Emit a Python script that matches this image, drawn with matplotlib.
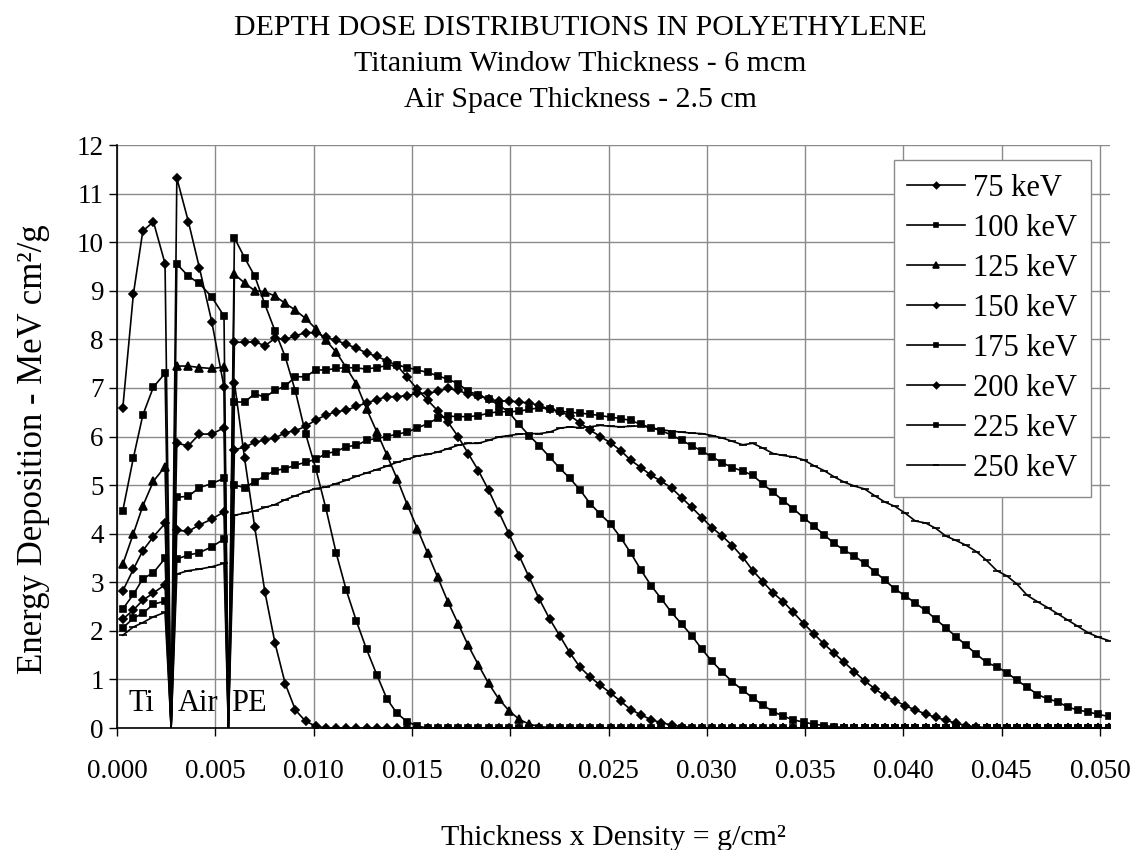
import numpy as np
import matplotlib
matplotlib.use("Agg")
import matplotlib.pyplot as plt

plt.rcParams['font.family'] = ['Liberation Serif', 'DejaVu Serif']

# depth grid (g/cm2): titanium window, air gap, polyethylene
ti_x = [0.00029, 0.00083, 0.00131, 0.00185, 0.00244]
air_x = [0.00304, 0.00363, 0.00419, 0.00482, 0.00544]
ti_air_edge = 0.00275
air_pe_edge = 0.00566
pe_start = 0.00597
pe_step = 0.000517
pe_count = 87

labels = ["75 keV", "100 keV", "125 keV", "150 keV",
          "175 keV", "200 keV", "225 keV", "250 keV"]

# energy deposition, MeV cm2/g
ti_75 = [6.58, 8.93, 10.23, 10.42, 9.56]
air_75 = [11.32, 10.42, 9.47, 8.36, 7.02]
pe_75 = [7.11, 5.55, 4.13, 2.80, 1.74, 0.91, 0.37, 0.14, 0.04] + [0.0] * 78

ti_100 = [4.47, 5.56, 6.44, 7.02, 7.30]
air_100 = [9.55, 9.30, 9.15, 8.87, 8.48]
pe_100 = [10.09, 9.68, 9.30, 8.72, 8.17, 7.64, 6.93, 6.06, 5.34, 4.52,
          3.61, 2.84, 2.20, 1.62, 1.10, 0.60, 0.30, 0.13, 0.04] + [0.0] * 68

ti_125 = [3.37, 4.00, 4.57, 5.08, 5.38]
air_125 = [7.45, 7.45, 7.42, 7.40, 7.43]
pe_125 = [9.34, 9.16, 9.00, 8.98, 8.89, 8.74, 8.60, 8.43, 8.22, 7.98,
          7.74, 7.42, 7.08, 6.57, 6.10, 5.62, 5.13, 4.60, 4.10, 3.60,
          3.10, 2.60, 2.15, 1.70, 1.30, 0.92, 0.60, 0.36, 0.18, 0.08,
          0.03, 0.01] + [0.0] * 55

ti_150 = [2.82, 3.27, 3.65, 3.94, 4.21]
air_150 = [5.86, 5.81, 6.05, 6.05, 6.18]
pe_150 = [7.94, 7.94, 7.95, 7.87, 8.02, 8.00, 8.07, 8.14, 8.14, 8.04,
          7.98, 7.90, 7.82, 7.72, 7.65, 7.56, 7.46, 7.22, 6.97, 6.75,
          6.53, 6.30, 6.00, 5.65, 5.30, 4.90, 4.45, 4.00, 3.55, 3.10,
          2.65, 2.25, 1.90, 1.55, 1.25, 1.05, 0.88, 0.72, 0.55, 0.38,
          0.27, 0.17, 0.11, 0.06, 0.03, 0.01] + [0.0] * 41

ti_175 = [2.45, 2.75, 3.07, 3.20, 3.49]
air_175 = [4.75, 4.77, 4.95, 5.03, 5.14]
pe_175 = [6.71, 6.71, 6.88, 6.81, 6.95, 7.04, 7.23, 7.23, 7.37, 7.37,
          7.40, 7.42, 7.41, 7.39, 7.42, 7.46, 7.47, 7.42, 7.37, 7.32,
          7.25, 7.18, 7.09, 6.93, 6.86, 6.77, 6.65, 6.50, 6.25, 6.02,
          5.81, 5.58, 5.35, 5.14, 4.90, 4.62, 4.40, 4.20, 3.92, 3.60,
          3.25, 2.93, 2.66, 2.38, 2.14, 1.90, 1.62, 1.37, 1.15, 0.95,
          0.78, 0.62, 0.47, 0.34, 0.24, 0.17, 0.12, 0.08, 0.05, 0.03,
          0.01] + [0.0] * 26

ti_200 = [2.24, 2.43, 2.63, 2.78, 2.95]
air_200 = [4.07, 4.05, 4.18, 4.30, 4.45]
pe_200 = [5.73, 5.78, 5.88, 5.93, 5.97, 6.08, 6.12, 6.21, 6.34, 6.44,
          6.51, 6.54, 6.62, 6.69, 6.76, 6.82, 6.82, 6.84, 6.89, 6.89,
          6.93, 6.99, 6.95, 6.87, 6.84, 6.77, 6.73, 6.73, 6.71, 6.69,
          6.64, 6.56, 6.51, 6.43, 6.28, 6.13, 6.00, 5.87, 5.71, 5.51,
          5.36, 5.20, 5.08, 4.94, 4.74, 4.54, 4.33, 4.12, 3.95, 3.75,
          3.52, 3.24, 3.01, 2.78, 2.60, 2.38, 2.15, 1.94, 1.73, 1.54,
          1.35, 1.16, 0.97, 0.81, 0.66, 0.56, 0.46, 0.37, 0.29, 0.22,
          0.16, 0.10, 0.05, 0.02, 0.01] + [0.0] * 12

ti_225 = [2.06, 2.26, 2.36, 2.55, 2.61]
air_225 = [3.48, 3.56, 3.61, 3.73, 3.89]
pe_225 = [5.00, 4.95, 5.07, 5.19, 5.30, 5.34, 5.41, 5.47, 5.53, 5.65,
          5.69, 5.79, 5.82, 5.92, 5.96, 6.00, 6.05, 6.09, 6.18, 6.26,
          6.38, 6.42, 6.41, 6.41, 6.43, 6.48, 6.51, 6.51, 6.52, 6.56,
          6.59, 6.57, 6.52, 6.50, 6.48, 6.46, 6.43, 6.40, 6.37, 6.33,
          6.25, 6.18, 6.12, 6.03, 5.92, 5.81, 5.70, 5.58, 5.46, 5.36,
          5.29, 5.20, 5.02, 4.85, 4.68, 4.51, 4.33, 4.16, 3.98, 3.80,
          3.66, 3.54, 3.39, 3.22, 3.04, 2.86, 2.72, 2.57, 2.42, 2.24,
          2.06, 1.88, 1.70, 1.52, 1.35, 1.26, 1.14, 0.98, 0.84, 0.69,
          0.60, 0.54, 0.43, 0.37, 0.33, 0.28, 0.24]

ti_250 = [1.91, 2.08, 2.17, 2.29, 2.38]
air_250 = [3.17, 3.24, 3.27, 3.32, 3.39]
pe_250 = [4.38, 4.42, 4.47, 4.54, 4.60, 4.70, 4.78, 4.86, 4.93, 4.96,
          5.03, 5.10, 5.18, 5.25, 5.32, 5.39, 5.47, 5.53, 5.60, 5.63,
          5.68, 5.75, 5.82, 5.86, 5.86, 5.92, 5.99, 6.02, 6.05, 6.06,
          6.06, 6.09, 6.17, 6.20, 6.18, 6.20, 6.23, 6.21, 6.20, 6.21,
          6.22, 6.18, 6.14, 6.11, 6.09, 6.07, 6.06, 6.02, 5.97, 5.90,
          5.83, 5.86, 5.76, 5.65, 5.61, 5.58, 5.52, 5.40, 5.30, 5.17,
          5.06, 4.98, 4.92, 4.78, 4.65, 4.56, 4.42, 4.26, 4.22, 4.11,
          3.95, 3.86, 3.76, 3.63, 3.45, 3.24, 3.13, 2.96, 2.73, 2.60,
          2.48, 2.35, 2.22, 2.09, 1.96, 1.87, 1.80]

ti_series = [ti_75, ti_100, ti_125, ti_150, ti_175, ti_200, ti_225, ti_250]
air_series = [air_75, air_100, air_125, air_150, air_175, air_200, air_225, air_250]
pe_series = [pe_75, pe_100, pe_125, pe_150, pe_175, pe_200, pe_225, pe_250]

marker_styles = [('D', 4.5), ('s', 4.5), ('^', 5.5), ('D', 4.0),
                 ('s', 4.5), ('D', 4.5), ('s', 5.0), ('_', 6.0)]

pe_x = list(pe_start + pe_step * np.arange(pe_count))
x_all = ti_x + [ti_air_edge] + air_x + [air_pe_edge] + pe_x
# the layer edges are drawn as drops to zero, without markers
edge_idx = {len(ti_x), len(ti_x) + 1 + len(air_x)}
mark_idx = [i for i in range(len(x_all)) if i not in edge_idx]

fig = plt.figure(figsize=(11.42, 8.5), dpi=100)
ax = fig.add_axes([0.1025, 0.1435, 0.8694, 0.6859])

for lab, ti, air, pe, (mk, ms) in zip(labels, ti_series, air_series, pe_series, marker_styles):
    y_all = ti + [0.0] + air + [0.0] + pe
    ax.plot(x_all, y_all, color='black', lw=1.2, marker=mk, ms=ms,
            markevery=mark_idx, mew=1.2, label=lab, zorder=3)

ax.set_xlim(0, 0.0505)
ax.set_ylim(0, 12)
ax.set_xticks(np.arange(0, 0.0501, 0.005))
ax.set_xticklabels(['%.3f' % v for v in np.arange(0, 0.0501, 0.005)])
ax.set_yticks(range(0, 13))
ax.tick_params(axis='both', labelsize=19.5, length=6, width=1, direction='out')
ax.tick_params(axis='x', pad=16)
ax.grid(True, color='#8a8a8a', lw=1.0, zorder=0)
for side in ['top', 'right']:
    ax.spines[side].set_visible(False)
for side in ['left', 'bottom']:
    ax.spines[side].set_linewidth(1.2)

ax.text(0.00056, 0.5, 'Ti', fontsize=22, ha='left', va='center')
ax.text(0.0031, 0.5, 'Air', fontsize=22, ha='left', va='center')
ax.text(0.0058, 0.5, 'PE', fontsize=22, ha='left', va='center')

ax.set_xlabel('Thickness x Density = g/cm²', fontsize=21.5, labelpad=30)
ax.set_ylabel('Energy Deposition - MeV cm²/g', fontsize=25)
ax.yaxis.set_label_coords(-0.068, 0.479)

leg = ax.legend(loc='upper right', bbox_to_anchor=(0.981, 0.974), fontsize=22,
                frameon=True, fancybox=False, edgecolor='#8a8a8a', framealpha=1,
                handlelength=1.9, markerscale=0.7, labelspacing=0.36,
                borderpad=0.45, handletextpad=0.25, borderaxespad=0)
leg.get_frame().set_linewidth(1.0)

fig.text(0.508, 0.967, 'DEPTH DOSE DISTRIBUTIONS IN POLYETHYLENE', fontsize=21.5,
         ha='center', va='center')
fig.text(0.508, 0.925, 'Titanium Window Thickness - 6 mcm', fontsize=21.5,
         ha='center', va='center')
fig.text(0.508, 0.882, 'Air Space Thickness - 2.5 cm', fontsize=21.5,
         ha='center', va='center')

fig.savefig('out.png', dpi=100)
